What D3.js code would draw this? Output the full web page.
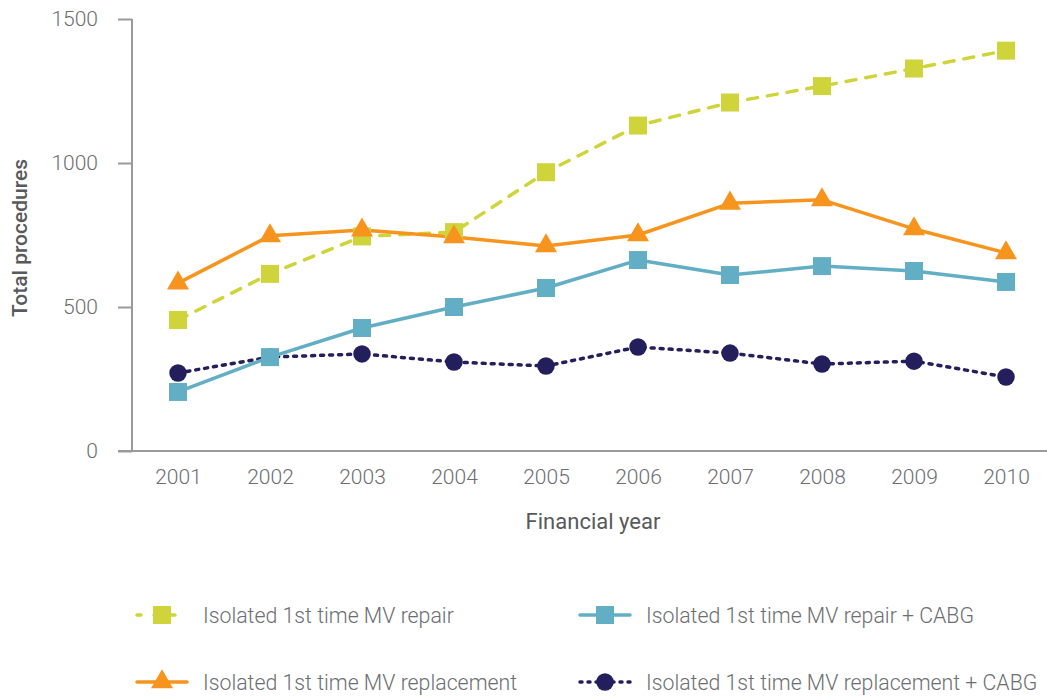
<!DOCTYPE html>
<html><head><meta charset="utf-8">
<script src="https://cdn.jsdelivr.net/npm/d3@7"></script>
<style>body{margin:0;background:#fff}svg{display:block}</style>
</head><body>
<svg id="c" width="1047" height="700"></svg>
<script>
const years = ["2001","2002","2003","2004","2005","2006","2007","2008","2009","2010"];
const repair = [455,615,745,760,968,1130,1210,1267,1328,1390];
const replacement = [583,747,767,743,712,750,860,872,771,688];
const repairCabg = [205,326,427,500,566,663,611,642,625,587];
const replacementCabg = [271,326,337,309,295,361,340,302,312,257];
const yTicks = [0,500,1000,1500];
const seriesNames = ["Isolated 1st time MV repair","Isolated 1st time MV replacement","Isolated 1st time MV repair + CABG","Isolated 1st time MV replacement + CABG"];

const svg = d3.select("#c");
const font = "Roboto, 'DejaVu Sans', sans-serif";
const x = d3.scalePoint().domain(years).range([132,1052]).padding(0.5);
const y = d3.scaleLinear().domain([0,1500]).range([451,19]);
const axisCol = "#9a9a9a", textCol = "#6d6e71";

// y axis
const ya = svg.append("g").attr("transform","translate(132,0)")
  .call(d3.axisLeft(y).tickValues(yTicks).tickSize(14).tickPadding(20).tickFormat(d3.format("d")));
ya.select(".domain").attr("stroke",axisCol).attr("stroke-width",2).attr("d","M0,19V451");
ya.selectAll(".tick line").attr("stroke",axisCol).attr("stroke-width",2);
ya.selectAll("text").attr("fill",textCol).style("font-family",font).style("font-size","21px").style("font-weight","300");

// x axis
const xa = svg.append("g").attr("transform","translate(0,451)")
  .call(d3.axisBottom(x).tickSize(0).tickPadding(18));
xa.select(".domain").attr("stroke",axisCol).attr("stroke-width",2).attr("d","M118,0H1047");
xa.selectAll("text").attr("fill",textCol).style("font-family",font).style("font-size","21px").style("font-weight","300");

svg.append("text").attr("x",593).attr("y",529).attr("text-anchor","middle")
  .attr("fill","#58595b").style("font-family",font).style("font-size","22px").style("font-weight","400").text("Financial year");
svg.append("text").attr("transform","translate(27,238) rotate(-90)").attr("text-anchor","middle")
  .attr("fill","#58595b").style("font-family",font).style("font-size","21px").style("font-weight","500").text("Total procedures");

const series = [
  {name:seriesNames[0], vals:repair, color:"#cfd43a", dash:"10,10", marker:"square"},
  {name:seriesNames[2], vals:repairCabg, color:"#62aec5", dash:null, marker:"square"},
  {name:seriesNames[1], vals:replacement, color:"#f7941d", dash:null, marker:"triangle"},
  {name:seriesNames[3], vals:replacementCabg, color:"#231f5c", dash:"3,6", marker:"circle"}
];
const line = d3.line().x((d,i)=>x(years[i])).y(d=>y(d));
const sym = {square:d3.symbol(d3.symbolSquare,324), triangle:d3.symbol(d3.symbolTriangle,210), circle:d3.symbol(d3.symbolCircle,240)};

function drawMarker(g, s, cx, cy){
  g.append("path").attr("d", sym[s.marker]()).attr("transform",`translate(${cx},${cy})`).attr("fill",s.color);
}
const order = [series[3], series[1], series[0], series[2]];
order.forEach(s=>{
  const p = svg.append("path").datum(s.vals).attr("d",line).attr("fill","none")
    .attr("stroke",s.color).attr("stroke-width",3.5).attr("stroke-linecap","round").attr("stroke-linejoin","round");
  if(s.dash) p.attr("stroke-dasharray",s.dash);
});
order.forEach(s=>{
  const g = svg.append("g");
  s.vals.forEach((v,i)=>drawMarker(g,s,x(years[i]),y(v)));
});

// legend
const legPos = [[137,615],[580,615],[137,682],[580,682]];
series.forEach((s,i)=>{
  const [lx,ly] = legPos[i];
  const g = svg.append("g");
  const l = g.append("line").attr("x1",lx).attr("x2",lx+50).attr("y1",ly).attr("y2",ly)
    .attr("stroke",s.color).attr("stroke-width",3.5).attr("stroke-linecap","round");
  if(s.dash) l.attr("stroke-dasharray", s.marker==="square" ? "4,13" : "2,6");
  drawMarker(g,s,lx+25,ly);
  g.append("text").attr("x",lx+66).attr("y",ly+8).attr("fill",textCol)
    .style("font-family",font).style("font-size","21.3px").style("font-weight","300").text(s.name);
});
</script>
</body></html>
